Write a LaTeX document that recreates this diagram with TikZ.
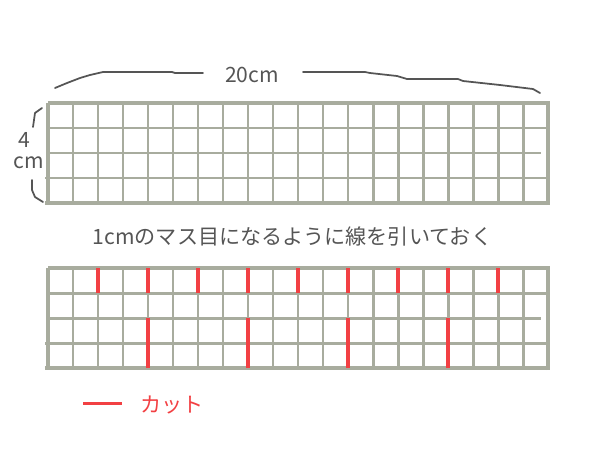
\documentclass[tikz,border=0pt]{standalone}
\usepackage{fontspec}
\setmainfont{Noto Sans CJK JP}
\usepackage{tikz}
\usetikzlibrary{calc}
\definecolor{gridgray}{HTML}{A8AC9E}
\definecolor{cutred}{HTML}{F24043}
\definecolor{inkgray}{HTML}{555555}

\tikzset{
  gridline/.style={gridgray, line width=3.4pt},
  gridframe/.style={gridgray, line width=4.4pt},
  cutline/.style={cutred, line width=4.6pt},
  sketchline/.style={inkgray, line width=2pt, line join=round, line cap=round},
  notetext/.style={inkgray, font=\fontsize{24}{24}\selectfont},
}

\begin{document}
\begin{tikzpicture}
  \useasboundingbox (-1.92,-9.88) rectangle (22.08,8.12);

  % the two 20 x 4 sheets
  \foreach \gy in {0,-6.6} {
    \foreach \i in {1,...,19} \draw[gridline] (\i,\gy) -- (\i,\gy+4);
    \draw[gridline] (0,\gy+3) -- (20,\gy+3);
    \draw[gridline] (0,\gy+2) -- (19.7,\gy+2);
    \draw[gridline] (-0.1,\gy+1) -- (20,\gy+1);
    \draw[gridframe] (0,\gy+4) -- (20,\gy+4);
    \draw[gridframe] (-0.12,\gy) -- (20,\gy);
    \draw[gridframe] (0,\gy) -- (0,\gy+4);
    \draw[gridframe] (20,\gy-0.08) -- (20,\gy+4.08);
  }

  % cuts
  \foreach \c in {2,4,...,18} \draw[cutline] (\c,-3.6) -- (\c,-2.6);
  \foreach \c in {4,8,12,16} \draw[cutline] (\c,-6.6) -- (\c,-4.6);

  % width mark
  \draw[sketchline] (0.28,4.6) -- (0.76,4.8) -- (1.28,5.0) -- (1.68,5.12) -- (2.2,5.24)
    -- (4.96,5.24) -- (5.08,5.2) -- (6.2,5.2);
  \draw[sketchline] (10.2,5.24) -- (12.68,5.24) -- (12.88,5.2) -- (13.96,5.08) -- (14.36,4.96)
    -- (16.4,4.96) -- (16.6,4.88) -- (18.08,4.72) -- (19.4,4.56) -- (19.68,4.4);
  \node[notetext] (widthtext) at (8.16,5.12) {20cm};

  % height mark
  \draw[sketchline] (-0.24,3.8) -- (-0.52,3.6) -- (-0.6,3.04);
  \draw[sketchline] (-0.64,0.92) -- (-0.64,0.52) -- (-0.52,0.24) -- (-0.2,0.04);
  \node[notetext] (heightnum) at (-0.96,2.52) {4};
  \node[notetext] (heightunit) at (-0.76,1.6) {cm};

  \node[notetext] (stepnote) at (9.78,-1.32) {1cmのマス目になるように線を引いておく};

  % legend
  \draw[cutred, line width=3.4pt] (1.4,-8) -- (2.96,-8);
  \node[notetext, cutred] (cutkey) at (4.96,-8.08) {カット};
\end{tikzpicture}
\end{document}
